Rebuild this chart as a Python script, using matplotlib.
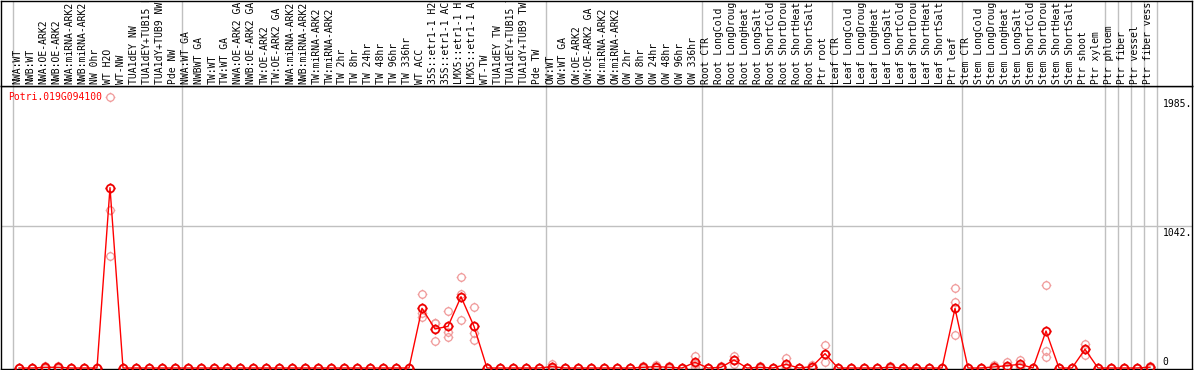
import matplotlib
matplotlib.use("Agg")
import matplotlib.pyplot as plt
from matplotlib.path import Path
import matplotlib.transforms as mtransforms

# ---------------- data ----------------
conditions = [
    "NWA:WT", "NWB:WT", "NWA:OE-ARK2", "NWB:OE-ARK2", "NWA:miRNA-ARK2", "NWB:miRNA-ARK2",
    "NW 0hr", "WT H2O", "WT-NW", "TUA1dEY NW", "TUA1dEY+TUB15 NW", "TUA1dY+TUB9 NW", "Pde NW",
    "NWA:WT GA", "NWBWT GA", "TW:WT", "TW:WT GA", "NWA:OE-ARK2 GA", "NWB:OE-ARK2 GA",
    "TW:OE-ARK2", "TW:OE-ARK2 GA", "NWA:miRNA-ARK2", "NWB:miRNA-ARK2", "TW:miRNA-ARK2",
    "TW:miRNA-ARK2", "TW 2hr", "TW 8hr", "TW 24hr", "TW 48hr", "TW 96hr", "TW 336hr",
    "WT ACC", "35S::etr1-1 H2O", "35S::etr1-1 ACC", "LMX5::etr1-1 H2O", "LMX5::etr1-1 ACC",
    "WT-TW", "TUA1dEY TW", "TUA1dEY+TUB15 TW", "TUA1dY+TUB9 TW", "Pde TW",
    "OW:WT", "OW:WT GA", "OW:OE-ARK2", "OW:OE-ARK2 GA", "OW:miRNA-ARK2", "OW:miRNA-ARK2",
    "OW 2hr", "OW 8hr", "OW 24hr", "OW 48hr", "OW 96hr", "OW 336hr",
    "Root CTR", "Root LongCold", "Root LongDrought", "Root LongHeat", "Root LongSalt",
    "Root ShortCold", "Root ShortDrought", "Root ShortHeat", "Root ShortSalt", "Ptr root",
    "Leaf CTR", "Leaf LongCold", "Leaf LongDrought", "Leaf LongHeat", "Leaf LongSalt",
    "Leaf ShortCold", "Leaf ShortDrought", "Leaf ShortHeat", "Leaf ShortSalt", "Ptr leaf",
    "Stem CTR", "Stem LongCold", "Stem LongDrought", "Stem LongHeat", "Stem LongSalt",
    "Stem ShortCold", "Stem ShortDrought", "Stem ShortHeat", "Stem ShortSalt", "Ptr shoot",
    "Ptr xylem", "Ptr phloem", "Ptr fiber", "Ptr vessel", "Ptr fiber vessel",
]

mean_values = [
    0, 0, 5, 5, 0, 0, 0, 1321, 0, 0, 0, 0, 0,
    0, 0, 0, 0, 0, 0, 0, 0, 0, 0, 0, 0, 0, 0, 0, 0, 0, 0,
    437, 286, 305, 522, 305, 0, 0, 0, 0, 0,
    10, 0, 0, 0, 0, 0, 0, 5, 10, 5, 0, 42,
    0, 5, 59, 0, 5, 0, 27, 0, 10, 105,
    0, 0, 0, 0, 5, 0, 0, 0, 0, 437,
    0, 0, 8, 17, 27, 0, 271, 0, 0, 137,
    0, 0, 0, 0, 6,
]

rep1 = [
    0, 0, 15, 15, 0, 0, 0, 1985, 0, 0, 0, 0, 0,
    0, 0, 0, 0, 0, 0, 0, 0, 0, 0, 0, 0, 0, 0, 0, 0, 0, 0,
    540, 332, 418, 664, 445, 0, 0, 0, 0, 0,
    30, 0, 0, 0, 0, 0, 0, 12, 20, 12, 0, 90,
    0, 17, 90, 0, 17, 0, 71, 0, 20, 168,
    0, 0, 0, 0, 15, 0, 0, 0, 0, 584,
    0, 0, 25, 42, 59, 0, 608, 0, 0, 176,
    0, 0, 0, 0, 17,
]
rep2 = [
    0, 0, 0, 0, 0, 0, 0, 1157, 0, 0, 0, 0, 0,
    0, 0, 0, 0, 0, 0, 0, 0, 0, 0, 0, 0, 0, 0, 0, 0, 0, 0,
    400, 326, 266, 540, 259, 0, 0, 0, 0, 0,
    0, 0, 0, 0, 0, 0, 0, 3, 8, 3, 0, 30,
    0, 0, 60, 0, 0, 0, 10, 0, 10, 100,
    0, 0, 0, 0, 0, 0, 0, 0, 0, 481,
    0, 0, 0, 9, 15, 0, 127, 0, 0, 140,
    0, 0, 0, 0, 0,
]
rep3 = [
    0, 0, 0, 0, 0, 0, 0, 820, 0, 0, 0, 0, 0,
    0, 0, 0, 0, 0, 0, 0, 0, 0, 0, 0, 0, 0, 0, 0, 0, 0, 0,
    370, 200, 225, 349, 203, 0, 0, 0, 0, 0,
    0, 0, 0, 0, 0, 0, 0, 0, 2, 0, 0, 5,
    0, 0, 27, 0, 0, 0, 0, 0, 0, 46,
    0, 0, 0, 0, 0, 0, 0, 0, 0, 240,
    0, 0, 0, 0, 7, 0, 83, 0, 0, 95,
    0, 0, 0, 0, 0,
]

# group separators: placed after these condition indices (-1 = before first)
group_ends = [-1, 12, 40, 52, 62, 72, 83, 84, 85, 86, 87]
y_ticks = [1985, 1042, 0]
y_tick_labels = ["1985.", "1042.", "0"]
gene_name = "Potri.019G094100"

# ---------------- figure ----------------
W, H = 1194, 370
DPI = 100
fig = plt.figure(figsize=(W / DPI, H / DPI), dpi=DPI)
fig.patch.set_facecolor("white")

def px_axes(left, top, right, bottom):
    return fig.add_axes([left / W, (H - bottom) / H, (right - left) / W, (bottom - top) / H])

ax = px_axes(0.5, 86, 1191.5, 369)      # plot area
axl = px_axes(0.5, 0.5, 1191.5, 86)     # label area

step = 13.0
x0 = 19.0
xlim = (-(x0 - 0.5) / step, (1191.5 - x0) / step)
for a in (ax, axl):
    a.set_xlim(*xlim)
    a.set_xticks([])
    a.set_yticks([])
    for s in a.spines.values():
        s.set_color("black")
        s.set_linewidth(1.0)

# y scale: 0 at px 368, 1985 at px 97
ppu = (368 - 97) / 1985.0
ax.set_ylim(-(369 - 368) / ppu, 1985 + (97 - 86) / ppu)
axl.set_ylim(0, 1)

grid_c = "#c0c0c0"
for g in group_ends:
    ax.axvline(g + 0.5, color=grid_c, lw=1.0, zorder=1)
    axl.axvline(g + 0.5, color=grid_c, lw=1.0, zorder=1)
ax.axhline(y_ticks[1], color=grid_c, lw=1.0, zorder=1)

# custom marker: circle with four small ticks
circ = Path.unit_circle()
tick_path = Path(
    [(0, 1), (0, 1.3), (0, -1), (0, -1.3), (1, 0), (1.3, 0), (-1, 0), (-1.3, 0)],
    [Path.MOVETO, Path.LINETO] * 4,
)
mk = Path.make_compound_path(circ, tick_path)

xs = list(range(len(conditions)))
rep_color = "#f09a9a"
for rep in (rep1, rep2, rep3):
    ax.plot(xs, rep, linestyle="none", marker=mk, markersize=7.0,
            markerfacecolor="none", markeredgecolor=rep_color, markeredgewidth=0.9,
            zorder=2, clip_on=False)
ax.plot(xs, mean_values, color="#ff0000", lw=1.0, zorder=3, clip_on=False)
ax.plot(xs, mean_values, linestyle="none", marker=mk, markersize=7.2,
        markerfacecolor="none", markeredgecolor="#ee0000", markeredgewidth=1.3,
        zorder=4, clip_on=False)

mono = "DejaVu Sans Mono"
# condition labels (vertical)
for i, lab in enumerate(conditions):
    t = axl.text(i - 0.12, 0.02, lab, rotation=90, ha="center", va="bottom",
                 fontsize=7.0, family=mono, color="black", clip_on=True)

# gene name label
ax.text(8 / 1191, (369 - 97) / 283, gene_name, transform=ax.transAxes,
        ha="left", va="center", fontsize=7.0, family=mono, color="#ff0000")

# right-side value labels
trans = mtransforms.blended_transform_factory(ax.transAxes, ax.transData)
for v, lab in zip(y_ticks, y_tick_labels):
    va = "bottom" if v == 0 else "top"
    off = 1 if v == 0 else -2
    ax.text(1162 / 1191, v + off / ppu, lab, transform=trans, ha="left", va=va,
            fontsize=7.0, family=mono, color="black")

fig.savefig("out.png", dpi=DPI, facecolor="white")
